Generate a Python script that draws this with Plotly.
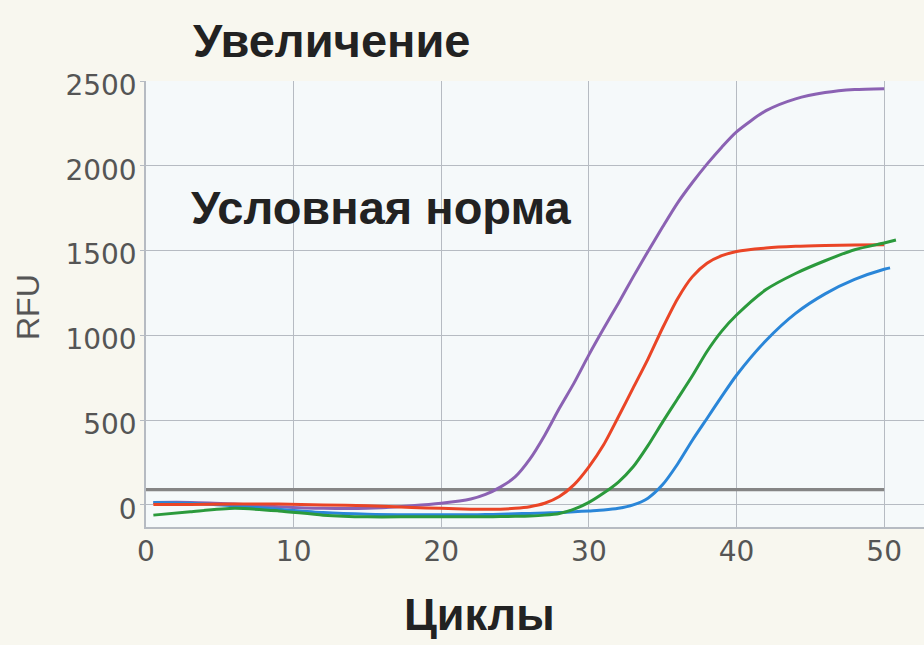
import plotly.graph_objects as go

# Amplification curves (RFU vs cycle number)
CYCLES = [0.5, 3, 6, 9, 12, 15, 18, 20, 22, 23, 24, 25, 26, 27, 28, 29, 30,
          31, 32, 33, 34, 35, 36, 37, 38, 39, 40, 42, 44, 46, 48, 50]

PURPLE = [15, 15, 5, -10, -20, -20, -5, 10, 35, 62, 105, 165, 270, 410, 570,
          720, 885, 1040, 1190, 1345, 1495, 1640, 1780, 1900, 2010, 2110, 2200,
          2325, 2395, 2432, 2450, 2455]
RED = [2, 3, 5, 5, 0, -5, -15, -20, -25, -25, -25, -20, -10, 10, 50, 120,
       225, 355, 520, 690, 860, 1045, 1215, 1345, 1425, 1470, 1495, 1515,
       1525, 1530, 1533, 1535]
GREEN = [-60, -40, -20, -35, -60, -70, -70, -70, -70, -70, -68, -67, -65, -60,
         -50, -25, 15, 70, 135, 225, 350, 490, 625, 760, 905, 1025, 1120, 1270,
         1365, 1440, 1505, 1545]
BLUE = [15, 10, -5, -25, -45, -55, -58, -58, -58, -57, -55, -52, -50, -47,
        -45, -40, -35, -30, -20, 0, 40, 120, 240, 380, 510, 640, 765, 970,
        1130, 1245, 1330, 1390]

# last sample of each curve (cycle, RFU)
GREEN_END = (50.8, 1562)
BLUE_END = (50.4, 1398)

THRESHOLD = 90
Y_TICKS = [0, 500, 1000, 1500, 2000, 2500]
X_TICKS = [0, 10, 20, 30, 40, 50]

FONT = "Liberation Sans, Arial, sans-serif"
TICK_FONT = "DejaVu Sans, sans-serif"
GRID = "#b6bbc2"
LABEL = "#555555"

fig = go.Figure()

# threshold line
fig.add_trace(go.Scatter(x=[0, 50], y=[THRESHOLD, THRESHOLD], mode="lines",
                         line=dict(color="#858585", width=3.2),
                         hoverinfo="skip", showlegend=False))

series = [
    ("purple", CYCLES, PURPLE, "#8b62b3"),
    ("blue", CYCLES + [BLUE_END[0]], BLUE + [BLUE_END[1]], "#2a86d8"),
    ("red", CYCLES, RED, "#ea4526"),
    ("green", CYCLES + [GREEN_END[0]], GREEN + [GREEN_END[1]], "#2b9a3c"),
]
for name, xs, ys, color in series:
    fig.add_trace(go.Scatter(x=xs, y=ys, mode="lines", name=name,
                             line=dict(color=color, width=3, shape="spline",
                                       smoothing=0.7),
                             showlegend=False))

fig.update_xaxes(range=[0, 52.7], tickvals=X_TICKS, showgrid=True,
                 gridcolor=GRID, gridwidth=1.2, zeroline=False,
                 showline=True, linecolor=GRID, linewidth=1.5,
                 ticks="", tickfont=dict(family=TICK_FONT, size=28, color=LABEL),
                 ticklabelstandoff=-1)
fig.update_yaxes(range=[-130, 2500], tickvals=Y_TICKS, showgrid=True,
                 gridcolor=GRID, gridwidth=1.2, zeroline=False,
                 showline=True, linecolor=GRID, linewidth=1.5,
                 ticks="outside", ticklen=4, tickcolor=GRID,
                 tickfont=dict(family=TICK_FONT, size=28, color=LABEL),
                 ticklabelstandoff=-2, ticklabelshift=4)

PLOT_L, PLOT_R, PLOT_T, PLOT_B = 146, 924, 81, 527
W, H = 924, 645


def px(x):
    return (x - PLOT_L) / (PLOT_R - PLOT_L)


def py(y):
    return (PLOT_B - y) / (PLOT_B - PLOT_T)


annotations = [
    dict(text="<b>Увеличение</b>", x=px(191), y=py(41), xanchor="left",
         yanchor="middle", font=dict(family=FONT, size=47, color="#222222")),
    dict(text="<b>Условная норма</b>", x=px(189), y=py(207), xanchor="left",
         yanchor="middle", font=dict(family=FONT, size=47, color="#222222")),
    dict(text="<b>Циклы</b>", x=px(479), y=py(614), xanchor="center",
         yanchor="middle", font=dict(family=FONT, size=45, color="#222222")),
    dict(text="RFU", x=px(28), y=py(307), xanchor="center", yanchor="middle",
         textangle=-90, font=dict(family=FONT, size=32, color=LABEL)),
]
for a in annotations:
    a.update(xref="paper", yref="paper", showarrow=False)

fig.update_layout(width=W, height=H,
                  margin=dict(l=PLOT_L, r=W - PLOT_R, t=PLOT_T, b=H - PLOT_B),
                  paper_bgcolor="#f8f7ef", plot_bgcolor="#f5f9fa",
                  annotations=annotations)

fig.write_html("out.html")
